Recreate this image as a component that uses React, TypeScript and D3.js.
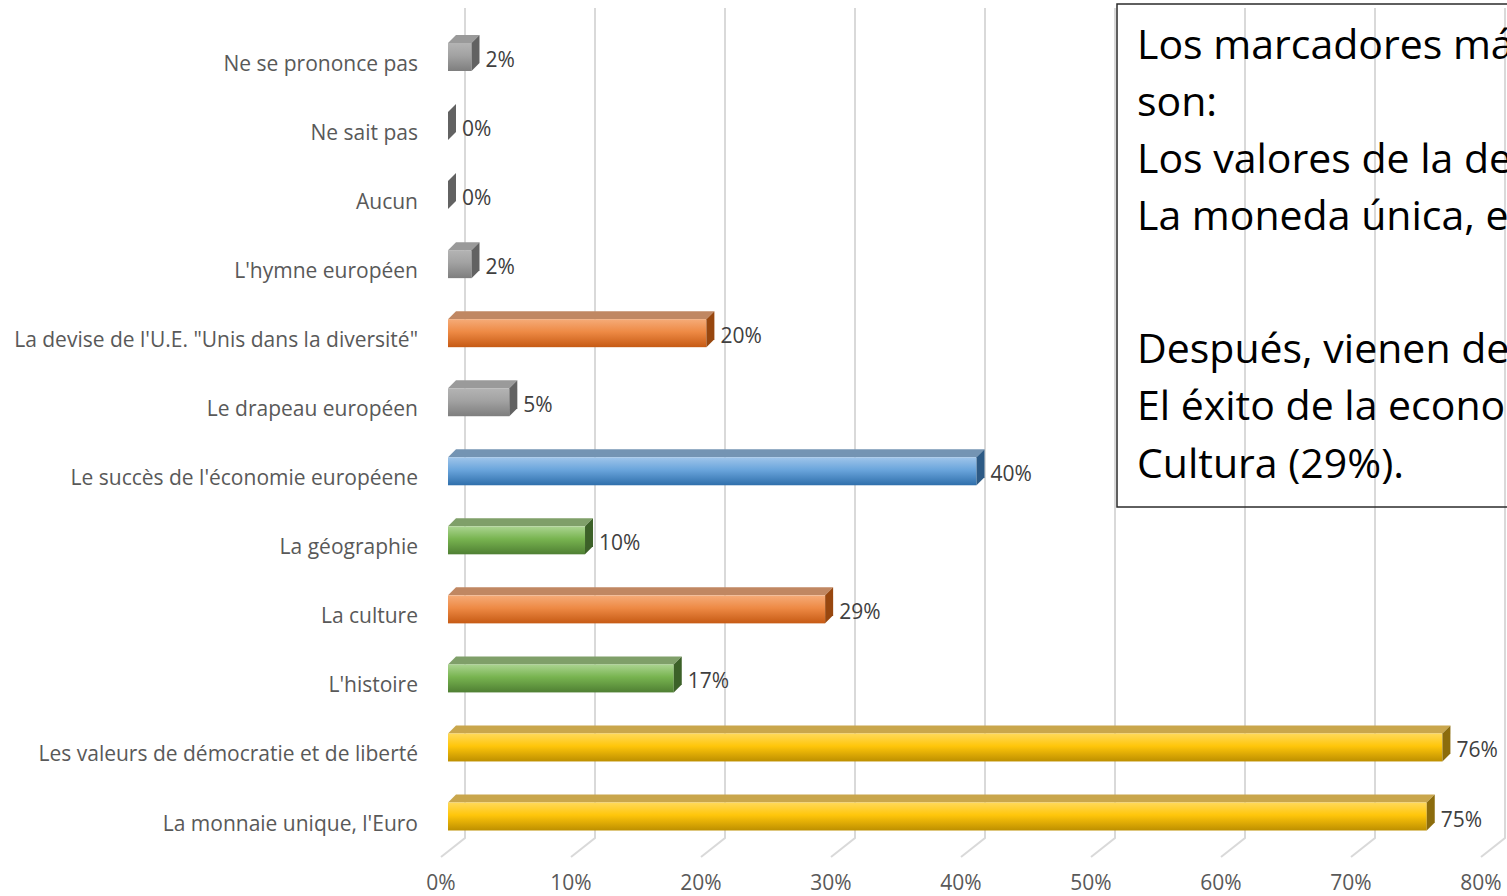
import React from 'react';
import * as d3 from 'd3';

// categories top to bottom, as in the reference
const categories = [
  'Ne se prononce pas',
  'Ne sait pas',
  'Aucun',
  "L'hymne européen",
  'La devise de l\'U.E. "Unis dans la diversité"',
  'Le drapeau européen',
  "Le succès de l'économie européene",
  'La géographie',
  'La culture',
  "L'histoire",
  'Les valeurs de démocratie et de liberté',
  "La monnaie unique, l'Euro",
];
// bar lengths (%)
const values = [1.8, 0, 0, 1.8, 19.8, 4.7, 40.5, 10.5, 28.9, 17.3, 76.2, 75.0];
// printed labels
const valueLabels = ['2%', '0%', '0%', '2%', '20%', '5%', '40%', '10%', '29%', '17%', '76%', '75%'];
const tones = ['grey', 'grey', 'grey', 'grey', 'orange', 'grey', 'blue', 'green', 'orange', 'green', 'gold', 'gold'];
const ticks = [0, 10, 20, 30, 40, 50, 60, 70, 80];

const noteLines = [
  { t: 'Los marcadores más importantes de la identidad europea', y: 59 },
  { t: 'son:', y: 116 },
  { t: 'Los valores de la democracia y de la libertad (76%)', y: 173 },
  { t: 'La moneda única, el Euro (75%).', y: 230 },
  { t: 'Después, vienen detrás:', y: 363 },
  { t: 'El éxito de la economía europea (40%) y la', y: 420 },
  { t: 'Cultura (29%).', y: 478 },
];

const palette: Record<string, { top: string; side: string; f: string[] }> = {
  grey: { top: '#9a9a9a', side: '#626262', f: ['#b4b4b4', '#a2a2a2', '#7e7e7e'] },
  orange: { top: '#c08762', side: '#98470f', f: ['#f5ab78', '#ee8a45', '#c65a14'] },
  blue: { top: '#7494b3', side: '#2d5a85', f: ['#9fc5ea', '#6aa5dc', '#2f6fab'] },
  green: { top: '#7f9f69', side: '#3c6128', f: ['#abd491', '#78b450', '#4f7f33'] },
  gold: { top: '#c9a64c', side: '#8c6c0c', f: ['#ffd95a', '#ffc60a', '#bd8f00'] },
};

const FONT = "'Open Sans', 'DejaVu Sans', sans-serif";
const LABEL_SIZE = 21;

export default function App() {
  const W = 1507;
  const H = 896;

  // front plane of the bars, back wall and floor edge
  const x = d3.scaleLinear().domain([0, 80]).range([448, 448 + 80 * 13.05]);
  const xBack = d3.scaleLinear().domain([0, 80]).range([465, 1505]);
  const xFloor = d3.scaleLinear().domain([0, 80]).range([441, 1481]);
  const y = d3.scalePoint<string>().domain(categories).range([57, 816.5]);

  const wallTop = 8;
  const wallBottom = 838;
  const floorFront = 857;
  const dx = 8;
  const dy = -8;
  const half = 14;

  return (
    <svg width={W} height={H} style={{ position: 'absolute', left: 0, top: 0, background: '#fff' }}>
      <defs>
        {Object.entries(palette).map(([k, p]) => (
          <linearGradient key={k} id={`front-${k}`} x1="0" y1="0" x2="0" y2="1">
            <stop offset="0" stopColor={p.f[0]} />
            <stop offset="0.45" stopColor={p.f[1]} />
            <stop offset="1" stopColor={p.f[2]} />
          </linearGradient>
        ))}
      </defs>

      {/* gridlines: back wall + floor */}
      {ticks.map((t) => (
        <path
          key={t}
          d={`M${xBack(t)},${wallTop}V${wallBottom}L${xFloor(t)},${floorFront}`}
          fill="none"
          stroke="#d9d9d9"
          strokeWidth={2}
        />
      ))}

      {/* bars */}
      {categories.map((c, i) => {
        const p = palette[tones[i]];
        const x0 = x(0);
        const x1 = x(values[i]);
        const yc = y(c) as number;
        const ft = yc - half;
        const fb = yc + half;
        return (
          <g key={c}>
            <path
              d={`M${x0},${ft}L${x1},${ft}L${x1 + dx},${ft + dy}L${x0 + dx},${ft + dy}Z`}
              fill={p.top}
            />
            <rect x={x0} y={ft} width={x1 - x0} height={fb - ft} fill={`url(#front-${tones[i]})`} />
            <path
              d={`M${x1},${ft}L${x1 + dx},${ft + dy}L${x1 + dx},${fb + dy}L${x1},${fb}Z`}
              fill={p.side}
            />
            <text
              x={x1 + dx + 6}
              y={yc + 2}
              dominantBaseline="central"
              fontFamily={FONT}
              fontSize={LABEL_SIZE}
              fill="#404040"
            >
              {valueLabels[i]}
            </text>
            <text
              x={418}
              y={yc + 6}
              textAnchor="end"
              dominantBaseline="central"
              fontFamily={FONT}
              fontSize={LABEL_SIZE}
              fill="#595959"
            >
              {c}
            </text>
          </g>
        );
      })}

      {/* x tick labels */}
      {ticks.map((t) => (
        <text
          key={t}
          x={xFloor(t)}
          y={882}
          textAnchor="middle"
          dominantBaseline="central"
          fontFamily={FONT}
          fontSize={LABEL_SIZE}
          fill="#595959"
        >
          {`${t}%`}
        </text>
      ))}

      {/* comment box */}
      <rect x={1117} y={4} width={420} height={503} fill="none" stroke="#2b2b2b" strokeWidth={1.5} />
      {noteLines.map((l) => (
        <text key={l.y} x={1137} y={l.y} fontFamily={FONT} fontSize={41} fill="#000">
          {l.t}
        </text>
      ))}
    </svg>
  );
}
